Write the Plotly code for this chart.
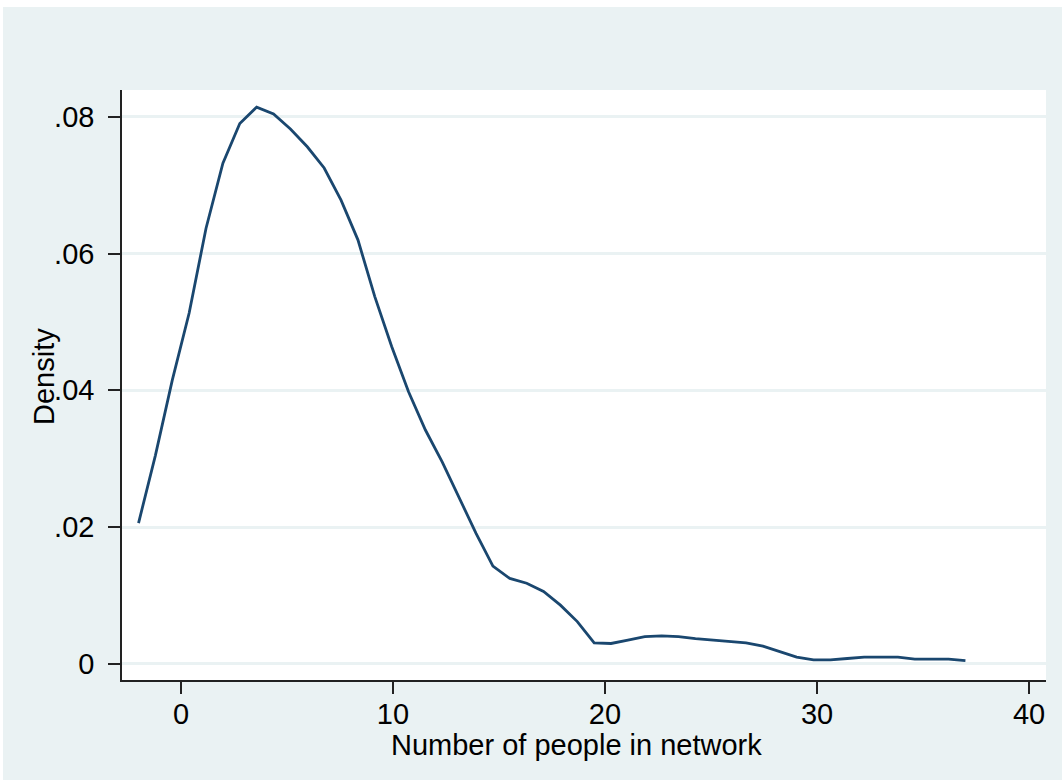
import plotly.graph_objects as go

# Kernel density estimate evaluated at 50 points from -2 to 37
x_start = -2.0
x_end = 37.0
density = [
    0.0206, 0.0305, 0.0415, 0.0513, 0.0637, 0.0732, 0.0790, 0.0814, 0.0804, 0.0782,
    0.0756, 0.0725, 0.0678, 0.0620, 0.0537, 0.0464, 0.0398, 0.0342, 0.0295, 0.0244,
    0.0191, 0.0143, 0.0125, 0.0118, 0.0106, 0.0086, 0.0062, 0.0031, 0.0030, 0.0035,
    0.0040, 0.0041, 0.0040, 0.0037, 0.0035, 0.0034, 0.0031, 0.0026, 0.0018, 0.0010,
    0.0006, 0.0006, 0.0008, 0.0010, 0.0010, 0.0010, 0.0007, 0.0007, 0.0007, 0.0005,
]
n = len(density)
x_vals = [x_start + (x_end - x_start) * i / (n - 1) for i in range(n)]

y_tickvals = [0, 0.02, 0.04, 0.06, 0.08]
y_ticktext = ["0", ".02", ".04", ".06", ".08"]
x_tickvals = [0, 10, 20, 30, 40]
x_ticktext = ["0", "10", "20", "30", "40"]
x_title = "Number of people in network"
y_title = "Density"

BG = "#EAF2F3"
LINE = "#1A476F"
FONT = "Liberation Sans, Arial, sans-serif"

fig = go.Figure()
fig.add_trace(go.Scatter(x=x_vals, y=density, mode="lines",
                         line=dict(color=LINE, width=2.8), showlegend=False,
                         hoverinfo="skip"))

W, H = 1062, 780
L, R, T, B = 122, 16, 90, 100
pw, ph = W - L - R, H - T - B

fig.update_layout(
    width=W, height=H,
    margin=dict(l=L, r=R, t=T, b=B, pad=0),
    paper_bgcolor=BG, plot_bgcolor="white",
    font=dict(family=FONT, size=29, color="black"),
    xaxis=dict(range=[-2.78, 40.8], tickvals=x_tickvals, ticktext=x_ticktext,
               showgrid=False, zeroline=False, showline=True, linecolor="#222",
               linewidth=1.5, ticks="outside", ticklen=12, tickwidth=1.5,
               tickcolor="#222", ticklabelstandoff=-5),
    yaxis=dict(range=[-0.00234, 0.0839], tickvals=y_tickvals, ticktext=y_ticktext,
               showgrid=True, gridcolor=BG, gridwidth=2.5, zeroline=False,
               showline=True, linecolor="#222", linewidth=1.5, ticks="outside",
               ticklen=12, tickwidth=1.5, tickcolor="#222", ticklabelstandoff=8),
    annotations=[
        dict(text=x_title, xref="paper", yref="paper",
             x=((390 + 763) / 2 - L) / pw, y=-(745 - (T + ph)) / ph,
             xanchor="center", yanchor="middle", showarrow=False,
             font=dict(size=29)),
        dict(text=y_title, xref="paper", yref="paper", textangle=-90,
             x=(44 - L) / pw, y=1 - (377 - T) / ph,
             xanchor="center", yanchor="middle", showarrow=False,
             font=dict(size=29)),
    ],
    shapes=[
        dict(type="rect", xref="paper", yref="paper", layer="above",
             x0=-L / pw, x1=(W - L) / pw, y0=1 + (T - 7) / ph, y1=1 + T / ph,
             fillcolor="white", line=dict(width=0)),
        dict(type="rect", xref="paper", yref="paper", layer="above",
             x0=-L / pw, x1=-(L - 3) / pw, y0=-(B) / ph, y1=1 + T / ph,
             fillcolor="white", line=dict(width=0)),
    ],
)

fig.write_html("out.html", config={"displayModeBar": False},
               post_script="document.body.style.margin='0';document.body.style.overflow='hidden';")
